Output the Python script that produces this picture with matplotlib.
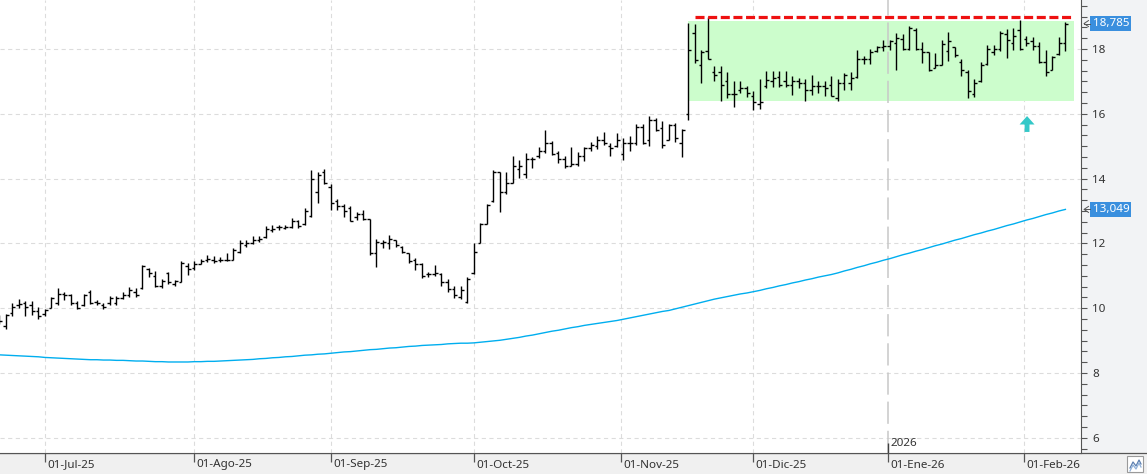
import matplotlib
matplotlib.use("Agg")
import matplotlib.pyplot as plt
import numpy as np
import pandas as pd
from matplotlib.patches import Rectangle, FancyArrow
from matplotlib.lines import Line2D
from matplotlib.transforms import Bbox, TransformedBbox, blended_transform_factory, IdentityTransform

plt.rcParams['font.family'] = ['Noto Sans', 'DejaVu Sans']
plt.rcParams['lines.scale_dashes'] = False

# ---------------- data ----------------
holidays = ['2025-12-25', '2025-12-26', '2026-01-01']
dates = pd.bdate_range('2025-06-20', '2026-02-10')
dates = dates[~dates.isin(pd.to_datetime(holidays))]

opens = [9.70, 9.45, 9.85, 10.10, 10.15, 10.10, 9.90, 9.82, 10.00, 10.15,
         10.45, 10.42, 10.15, 10.10, 10.50, 10.20, 10.10, 10.15, 10.15, 10.30,
         10.40, 10.50, 10.62, 11.20, 11.00, 10.70, 11.10, 10.75, 10.80, 11.30,
         11.25, 11.35, 11.50, 11.50, 11.50, 11.50, 11.50, 11.75, 11.95, 12.00,
         12.10, 12.20, 12.40, 12.50, 12.48, 12.50, 12.70, 12.60, 12.85, 13.60,
         14.20, 13.75, 13.30, 13.15, 13.10, 12.80, 12.90, 12.75, 11.70, 12.00,
         12.00, 12.10, 11.90, 11.70, 11.50, 11.35, 11.05, 11.05, 11.05, 10.80,
         10.60, 10.35, 10.20, 11.10, 12.00, 12.60, 13.30, 14.20, 13.60, 13.85,
         14.30, 14.15, 14.60, 14.70, 14.85, 15.10, 14.80, 14.60, 14.40, 14.45,
         14.70, 14.95, 15.00, 15.20, 15.00, 15.00, 14.75, 15.10, 15.10, 15.60,
         15.20, 15.80, 15.55, 15.20, 15.65, 15.10, 16.00, 18.50, 17.50, 17.95,
         17.30, 17.30, 17.00, 16.60, 16.75, 16.80, 16.55, 16.30, 16.85, 17.00,
         17.15, 17.00, 16.90, 17.00, 16.95, 16.75, 16.85, 16.85, 16.90, 16.50,
         16.95, 16.95, 17.15, 17.70, 17.70, 17.95, 18.05, 18.10, 18.20, 18.30,
         18.00, 18.60, 18.00, 17.90, 17.40, 17.50, 17.95, 18.05, 17.60, 17.30,
         16.60, 17.00, 17.55, 17.90, 18.00, 18.45, 18.20, 18.60, 18.30, 18.25,
         18.10, 17.60, 17.35, 17.85, 18.20]
highs = [9.80, 9.83, 10.16, 10.27, 10.21, 10.21, 10.03, 9.98, 10.34, 10.63,
         10.49, 10.44, 10.21, 10.44, 10.55, 10.24, 10.15, 10.39, 10.39, 10.51,
         10.65, 10.62, 11.34, 11.24, 11.16, 10.91, 11.13, 10.88, 11.47, 11.40,
         11.46, 11.52, 11.64, 11.61, 11.58, 11.69, 11.85, 12.10, 12.10, 12.24,
         12.24, 12.53, 12.58, 12.58, 12.56, 12.77, 12.72, 13.08, 14.26, 14.21,
         14.31, 13.82, 13.38, 13.23, 13.16, 12.97, 13.03, 12.75, 12.15, 12.12,
         12.26, 12.12, 11.92, 11.71, 11.54, 11.38, 11.13, 11.33, 11.10, 10.89,
         10.67, 10.69, 10.97, 12.02, 12.64, 13.23, 14.27, 14.21, 14.19, 14.71,
         14.56, 14.78, 14.66, 14.97, 15.50, 15.15, 14.86, 14.71, 14.99, 14.81,
         14.97, 15.12, 15.30, 15.45, 15.09, 15.40, 15.26, 15.30, 15.67, 15.70,
         15.92, 15.88, 15.79, 15.70, 15.72, 15.52, 18.80, 18.78, 17.98, 18.98,
         17.49, 17.49, 17.28, 17.00, 17.00, 16.85, 16.70, 17.06, 17.31, 17.31,
         17.31, 17.31, 17.18, 17.11, 17.06, 17.21, 17.00, 17.00, 17.18, 17.08,
         17.26, 17.28, 17.98, 17.79, 18.00, 18.10, 18.27, 18.29, 18.49, 18.46,
         18.72, 18.65, 18.21, 17.90, 17.88, 18.27, 18.54, 18.06, 17.69, 17.36,
         17.08, 17.59, 18.13, 18.13, 18.57, 18.62, 18.65, 18.88, 18.41, 18.37,
         18.21, 17.98, 17.79, 18.37, 18.82]
lows = [9.50, 9.36, 9.77, 10.00, 9.75, 9.79, 9.67, 9.77, 10.00, 10.10,
        10.24, 10.10, 9.98, 10.08, 10.13, 10.10, 9.98, 10.10, 10.10, 10.29,
        10.34, 10.34, 10.60, 10.96, 10.65, 10.62, 10.75, 10.68, 10.80, 11.03,
        11.18, 11.35, 11.44, 11.38, 11.42, 11.46, 11.49, 11.69, 11.90, 11.97,
        12.03, 12.17, 12.34, 12.41, 12.44, 12.46, 12.48, 12.58, 12.82, 13.26,
        13.82, 13.03, 13.03, 12.82, 12.69, 12.72, 12.72, 11.64, 11.28, 11.85,
        11.82, 11.88, 11.69, 11.38, 11.18, 10.92, 10.95, 11.00, 10.67, 10.51,
        10.31, 10.28, 10.17, 11.06, 12.00, 12.59, 13.28, 12.97, 13.52, 13.85,
        14.02, 14.02, 14.32, 14.64, 14.78, 14.73, 14.47, 14.32, 14.39, 14.40,
        14.54, 14.84, 14.92, 15.04, 14.69, 14.97, 14.58, 14.84, 15.03, 15.08,
        15.01, 15.47, 14.94, 15.20, 15.14, 14.66, 15.80, 17.57, 16.95, 17.69,
        17.00, 16.39, 16.49, 16.22, 16.63, 16.52, 16.13, 16.15, 16.80, 16.83,
        16.83, 16.83, 16.59, 16.80, 16.39, 16.59, 16.63, 16.56, 16.54, 16.39,
        16.73, 16.73, 17.11, 17.55, 17.55, 17.90, 17.93, 17.98, 17.34, 17.98,
        17.96, 17.96, 17.57, 17.31, 17.40, 17.50, 17.62, 17.75, 17.16, 16.49,
        16.52, 16.97, 17.52, 17.83, 17.93, 17.72, 17.98, 17.96, 18.08, 17.98,
        17.57, 17.16, 17.35, 17.83, 17.93]
closes = [9.62, 9.80, 10.05, 10.12, 10.05, 9.90, 9.75, 9.95, 10.30, 10.45,
          10.42, 10.15, 10.00, 10.42, 10.15, 10.15, 10.05, 10.30, 10.30, 10.40,
          10.55, 10.40, 11.30, 11.10, 10.70, 10.85, 10.80, 10.85, 11.40, 11.20,
          11.35, 11.45, 11.52, 11.45, 11.48, 11.50, 11.80, 12.00, 12.00, 12.10,
          12.15, 12.45, 12.45, 12.50, 12.50, 12.70, 12.55, 13.00, 14.00, 14.10,
          13.85, 13.25, 13.15, 13.00, 12.70, 12.90, 12.75, 11.70, 12.05, 12.05,
          12.15, 11.95, 11.75, 11.45, 11.35, 11.00, 11.05, 11.10, 10.80, 10.60,
          10.40, 10.55, 10.90, 11.75, 12.60, 13.20, 14.20, 13.60, 13.85, 14.40,
          14.40, 14.60, 14.60, 14.85, 15.10, 14.75, 14.60, 14.40, 14.45, 14.70,
          14.95, 15.05, 15.20, 15.10, 14.95, 15.20, 15.10, 15.10, 15.60, 15.10,
          15.80, 15.50, 15.05, 15.65, 15.25, 15.50, 17.98, 17.65, 17.90, 17.70,
          17.20, 16.90, 16.60, 16.60, 16.80, 16.65, 16.35, 16.35, 17.05, 17.10,
          16.90, 16.90, 17.00, 16.95, 16.75, 16.85, 16.85, 16.80, 16.55, 16.95,
          17.20, 17.10, 17.70, 17.70, 17.90, 18.05, 18.10, 18.25, 18.35, 18.00,
          18.65, 18.00, 17.90, 17.35, 17.50, 18.15, 18.25, 17.80, 17.35, 16.70,
          16.95, 17.50, 18.00, 18.00, 18.50, 18.27, 18.40, 18.00, 18.20, 18.10,
          17.60, 17.30, 17.75, 18.20, 18.785]
ma200 = [8.56, 8.55, 8.54, 8.53, 8.52, 8.51, 8.50, 8.48,
         8.47, 8.46, 8.45, 8.44, 8.43, 8.42,
         8.41, 8.41, 8.40, 8.40, 8.39, 8.39, 8.38,
         8.37, 8.37, 8.36, 8.35, 8.35, 8.34,
         8.34, 8.34, 8.34, 8.35, 8.35, 8.36,
         8.36, 8.37, 8.38, 8.39, 8.40, 8.41,
         8.42, 8.44, 8.45, 8.47, 8.48, 8.50, 8.51, 8.53,
         8.55, 8.56, 8.58, 8.59, 8.61,
         8.63, 8.65, 8.66, 8.68, 8.70, 8.72, 8.73, 8.75, 8.77, 8.78,
         8.80, 8.82, 8.83, 8.85, 8.86, 8.87, 8.88,
         8.90, 8.91, 8.92, 8.92, 8.93,
         8.95, 8.97, 8.99, 9.01, 9.04,
         9.07, 9.10, 9.14, 9.17, 9.21, 9.25,
         9.29, 9.32, 9.36, 9.40, 9.43, 9.47,
         9.50, 9.53, 9.56, 9.59, 9.62,
         9.66, 9.70, 9.74, 9.78, 9.82, 9.86, 9.90, 9.93,
         9.98, 10.03, 10.08, 10.13, 10.18, 10.23, 10.28,
         10.32, 10.36, 10.40, 10.44, 10.47, 10.51,
         10.55, 10.60, 10.64, 10.69, 10.73, 10.78, 10.82, 10.87, 10.91, 10.96, 11.00, 11.04,
         11.09, 11.15, 11.20, 11.26, 11.31, 11.37, 11.42, 11.48,
         11.53, 11.59, 11.65, 11.70, 11.76, 11.81, 11.87, 11.93, 11.98, 12.04,
         12.10, 12.15, 12.21, 12.27, 12.32, 12.38, 12.43, 12.49, 12.55, 12.60,
         12.66, 12.72, 12.77, 12.83, 12.89, 12.94, 13.00, 13.049]

month_starts = ['2025-07-01', '2025-08-01', '2025-09-01', '2025-10-01',
                '2025-11-01', '2025-12-01', '2026-01-01', '2026-02-01']
month_labels = ['01-Jul-25', '01-Ago-25', '01-Sep-25', '01-Oct-25',
                '01-Nov-25', '01-Dic-25', '01-Ene-26', '01-Feb-26']

range_low, range_high = 16.39, 18.85
resistance = 19.0
last_close_label = '18,785'
ma_label = '13,049'

# ---------------- figure ----------------
W, H = 1147, 474
fig = plt.figure(figsize=(W / 100, H / 100), dpi=100, facecolor='#f2f3f5')
AX_R = 1081
AX_B = 453
ax = fig.add_axes([0, (H - AX_B) / H, AX_R / W, AX_B / H])
ax.set_facecolor('white')
ax.set_zorder(1)

x = np.arange(len(dates))
ax.set_xlim(0.08, 166.4)
ax.set_ylim(18 - (AX_B - 49) / 32.4, 18 + 49 / 32.4)

# month tick positions
tick_pos = []
for m in pd.to_datetime(month_starts):
    i = int(np.searchsorted(dates.values, np.datetime64(m)))
    tick_pos.append(i if dates[i] == m else i - 0.3)

# grid
for v in range(6, 19, 2):
    ax.axhline(v, color='#dcdcdc', lw=0.8, dashes=(3, 2.5), zorder=0.5)
for p, lab in zip(tick_pos, month_labels):
    if lab == '01-Ene-26':
        continue
    ax.axvline(p, color='#dcdcdc', lw=0.8, dashes=(3, 2.5), zorder=0.5)

# range box
ax.add_patch(Rectangle((105.9, range_low), 165.3 - 105.9, range_high - range_low,
                       facecolor='#ccfdcc', edgecolor='none', zorder=1))

# year line
jan = tick_pos[6]
ax.axvline(jan, color='#c8c8c8', lw=1.1, dashes=(16, 5), zorder=1.5)
ylo = ax.get_ylim()[0]
ax.plot([jan, jan], [ylo, 18 - (443 - 49) / 32.4], color='#404040', lw=1.0, zorder=3,
        solid_capstyle='butt')
ax.text(jan + 0.35, 18 - (443 - 49) / 32.4, '2026', fontsize=8.4, color='#333333',
        ha='left', va='center', zorder=3)

# OHLC bars
ax.vlines(x, lows, highs, color='black', lw=1.0, zorder=2)
ax.hlines(opens, x - 0.42, x, color='black', lw=1.0, zorder=2)
ax.hlines(closes, x, x + 0.42, color='black', lw=1.0, zorder=2)

# moving average
ax.plot(x, ma200, color='#00aeef', lw=1.0, zorder=2)

# resistance
ax.plot([107.0, 165.2], [resistance, resistance], color='#ee1111', lw=2.3,
        dashes=(6.5, 2.6), zorder=3, solid_capstyle='butt', dash_capstyle='butt')

# arrow
ax.add_patch(FancyArrow(158.1, 15.44, 0, 15.93 - 15.44, width=0.75, head_width=2.3,
                        head_length=0.26, length_includes_head=True,
                        facecolor='#33c8c8', edgecolor='none', zorder=3))

# axes styling
for s in ['left', 'top']:
    ax.spines[s].set_visible(False)
ax.spines['right'].set_color('#555555')
ax.spines['bottom'].set_color('#555555')
ax.yaxis.tick_right()
ax.set_yticks(range(6, 19, 2))
ax.set_yticks(np.arange(17 / 3, 19.5, 1 / 3), minor=True)
ax.tick_params(axis='y', which='both', direction='out', length=4.3, width=0.8,
               color='#555555', pad=3.6, labelsize=8.4, labelcolor='#333333')
ax.set_xticks(tick_pos)
ax.set_xticklabels([])
ax.tick_params(axis='x', which='major', direction='out', length=6.5, width=0.9,
               color='#555555')

# bottom strip
fig.patches.append(Rectangle((0, 0), 1, (H - AX_B) / H, transform=fig.transFigure,
                             facecolor='#f0f0f0', edgecolor='none', zorder=-1))
fig.lines.append(Line2D([0, 1], [(H - AX_B) / H] * 2, transform=fig.transFigure,
                        color='#555555', lw=0.9, zorder=0.5))

# month labels (clipped at right axis)
clip = TransformedBbox(Bbox([[0, 0], [AX_R / 100, H / 100]]), fig.dpi_scale_trans)
trans = blended_transform_factory(ax.transData, ax.transAxes)
for p, lab in zip(tick_pos, month_labels):
    t = ax.text(p + 0.35, -12 / AX_B, lab, transform=trans, fontsize=8.4,
                color='#333333', ha='left', va='center', clip_on=False)
    t.set_clip_box(clip)
    t.set_clip_on(True)

# value labels
ytrans = blended_transform_factory(ax.transAxes, ax.transData)
fig.canvas.draw()
for val, lab in [(closes[-1], last_close_label), (ma200[-1], ma_label)]:
    ax.text(1 + 11.5 / AX_R, val, lab, transform=ytrans, fontsize=8.4, color='white',
            ha='left', va='center', clip_on=False,
            bbox=dict(boxstyle='square,pad=0.18', facecolor='#3a8fde', edgecolor='none'))
    py = ax.transData.transform((0, val))[1]
    fig.lines.append(Line2D([AX_R + 7.5, AX_R + 3, AX_R + 7.5], [py + 3, py, py - 3],
                            transform=IdentityTransform(), color='#555555', lw=0.7,
                            zorder=2))
    fig.lines.append(Line2D([AX_R + 3, AX_R + 9], [py, py],
                            transform=IdentityTransform(), color='#555555', lw=0.7,
                            zorder=2))

# small icon bottom right
fig.patches.append(Rectangle((1127 / W, 2 / H), 16 / W, 16 / H, transform=fig.transFigure,
                             facecolor='white', edgecolor='#9a9a9a', lw=0.8, zorder=2))
zx = np.array([1130, 1133, 1136, 1139, 1141]) / W
fig.lines.append(Line2D(zx, (H - np.array([468, 462, 466, 460, 464])) / H,
                        transform=fig.transFigure, color='#5b7fb0', lw=0.9, zorder=3))
fig.lines.append(Line2D(zx, (H - np.array([471, 465, 469, 463, 467])) / H,
                        transform=fig.transFigure, color='#8fb0d8', lw=0.9, zorder=3))

fig.savefig('out.png', dpi=100, facecolor=fig.get_facecolor())
